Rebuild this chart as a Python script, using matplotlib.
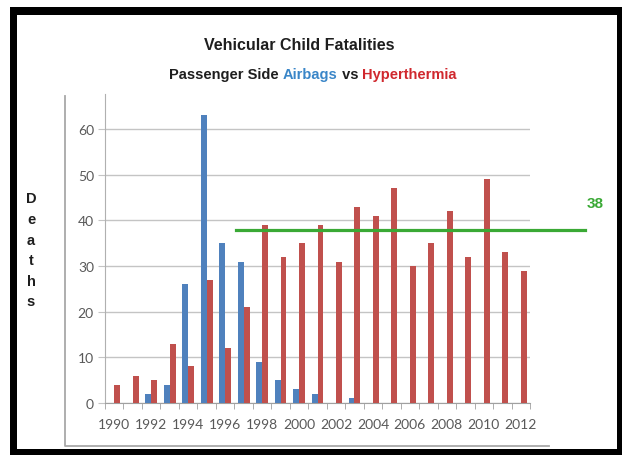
#!/usr/bin/env python
"""
Vehicular child fatalities: passenger side airbags vs hyperthermia.
"""

import numpy as np
import matplotlib
matplotlib.use("Agg")
import matplotlib.pyplot as plt
from matplotlib.patches import Rectangle
from matplotlib.lines import Line2D
from matplotlib.offsetbox import TextArea, HPacker, AnnotationBbox

years = list(range(1990, 2013))
airbags = [0, 0, 2, 4, 26, 63, 35, 31, 9, 5, 3, 2, 0, 1, 0, 0, 0, 0, 0, 0, 0, 0, 0]
hyperthermia = [4, 6, 5, 13, 8, 27, 12, 21, 39, 32, 35, 39, 31, 43, 41, 47, 30, 35, 42, 32, 49, 33, 29]
average = 38
yticks = [0, 10, 20, 30, 40, 50, 60]

W, H = 622, 456
BLUE = "#4f81bd"
RED = "#c0504d"
GREEN = "#3aa935"
GRID = "#c4c4c4"
TXT = "#595959"


def px(x0, y0, x1, y1):
    # pixel box (top-left origin) -> figure fraction rect
    return (x0 / W, 1 - y1 / H), (x1 - x0) / W, (y1 - y0) / H


fig = plt.figure(figsize=(W / 100, H / 100), dpi=100)
fig.patch.set_facecolor("white")

# black frame around the picture
for box in [(10, 8, 622, 16), (10, 8, 17, 456), (10, 450, 622, 456), (617, 8, 622, 456)]:
    xy, w, h = px(*box)
    fig.patches.append(Rectangle(xy, w, h, transform=fig.transFigure,
                                 facecolor="black", edgecolor="none", zorder=10))

# light grey chart-area outline (left and bottom only)
fig.lines.append(Line2D([65 / W, 65 / W, 549 / W], [1 - 97 / H, 1 - 447 / H, 1 - 447 / H],
                        transform=fig.transFigure, color="#a8a8a8", lw=1.3))

ax = fig.add_axes([105 / W, 1 - 404 / H, 425 / W, 309 / H])
x = np.arange(len(years))
bw = 0.32
ax.bar(x - bw / 2, airbags, bw, color=BLUE, zorder=3)
ax.bar(x + bw / 2, hyperthermia, bw, color=RED, zorder=3)

ax.set_xlim(-0.5, len(years) - 0.5)
ax.set_ylim(0, 67.7)
ax.set_yticks(yticks)
ax.set_yticklabels([str(v) for v in yticks], fontsize=10, color=TXT, family="Lato")
ax.yaxis.grid(True, color=GRID, lw=1.0, zorder=0)
ax.tick_params(axis="y", length=5, color=GRID, pad=3)

ax.set_xticks(x[::2])
ax.set_xticklabels([str(y) for y in years[::2]], fontsize=10, color=TXT, family="Lato")
ax.set_xticks(np.arange(len(years) + 1) - 0.5, minor=True)
ax.tick_params(axis="x", which="major", length=0, pad=11)
ax.tick_params(axis="x", which="minor", length=4, color="#a0a0a0")

for s in ["top", "right"]:
    ax.spines[s].set_visible(False)
ax.spines["left"].set_color("#b0b0b0")
ax.spines["bottom"].set_color("#a0a0a0")

# average line for hyperthermia
ax.axhline(average, xmin=0.308, xmax=1.13, color=GREEN, lw=2.3, clip_on=False, zorder=4)
ax.annotate(str(average), xy=(1.13, average), xycoords=("axes fraction", "data"),
            xytext=(7, 19), textcoords="offset points", ha="center", va="center",
            color=GREEN, fontsize=11, fontweight="bold", family="Liberation Sans")

fig.text(299 / W, 1 - 45 / H, "Vehicular Child Fatalities", ha="center", va="center",
         fontsize=11.5, fontweight="bold", family="Liberation Sans", color="#1e1e1e")

parts = [("Passenger Side ", "#1e1e1e"), ("Airbags", "#3a86c8"),
         (" vs ", "#1e1e1e"), ("Hyperthermia", "#d0282e")]
boxes = [TextArea(t, textprops=dict(color=c, fontsize=10.5, fontweight="bold",
                                    family="Liberation Sans")) for t, c in parts]
sub = HPacker(children=boxes, align="baseline", pad=0, sep=0)
fig.add_artist(AnnotationBbox(sub, (313 / W, 1 - 75 / H), xycoords="figure fraction",
                              frameon=False, box_alignment=(0.5, 0.5)))

fig.text(31 / W, 1 - 251 / H, "D\ne\na\nt\nh\ns", ha="center", va="center",
         fontsize=10.5, fontweight="bold", family="Liberation Sans", color="#1e1e1e",
         linespacing=1.6)

fig.savefig("out.png", dpi=100)
